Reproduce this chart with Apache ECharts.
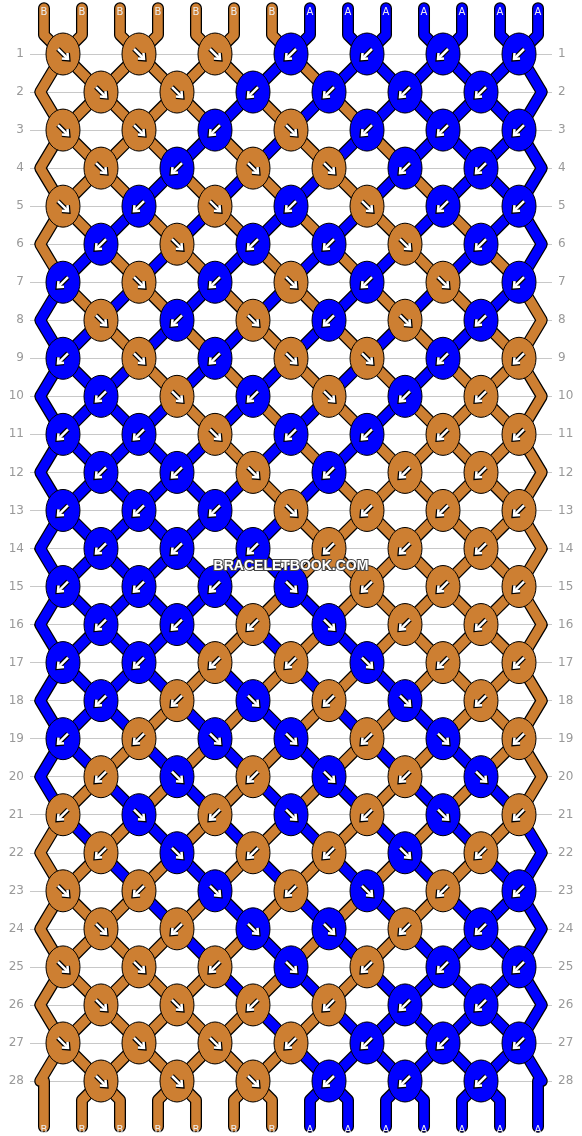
<!DOCTYPE html>
<html>
<head>
<meta charset="UTF-8">
<title>Bracelet pattern</title>
<script src="https://cdn.jsdelivr.net/npm/echarts@6/dist/echarts.min.js"></script>
<style>html,body{margin:0;padding:0;background:#fff}</style>
</head>
<body>
<div id="main" style="width:582px;height:1136px"></div>
<script>
// string colours at the top, left to right
var startStrings = ['B','B','B','B','B','B','B','A','A','A','A','A','A','A'];
var colorOf = { B: '#cd7f32', A: '#0000ff' };
// knot colours per row (odd rows 7 knots, even rows 6)
var knotColors = [
  'BBBAAAA','BBAAAA','BBABAAA','BABBAA','BABABAA','ABAABA','ABABABA',
  'BABABA','ABABBAB','ABABAB','AABAABB','AABABB','AAABBBB','AAABBB',
  'AAAABBB','AABABB','AABBABB','ABABAB','ABAABAB','BABABA','BABABAB',
  'BABBAB','BBABABA','BBAABA','BBBABAA','BBBBAA','BBBBAAA','BBBAAA'
];
// knot directions per row: R = ↘, L = ↙
var knotDirs = [
  'RRRLLLL','RRLLLL','RRLRLLL','RLRRLL','RLRLRLL','LRLLRL','LRLRLRL',
  'RLRLRL','LRLRRLL','LRLRLL','LLRLLLL','LLRLLL','LLLRLLL','LLLLLL',
  'LLLRLLL','LLLRLL','LLLLRLL','LLRLRL','LLRRLRL','LRLRLR','LRLRLRL',
  'LRLLRL','RLRLRLL','RLRRLL','RRLRLLL','RRLLLL','RRRLLLL','RRRLLL'
];

// follow each string through the knots (every knot swaps its pair)
var pos = startStrings.map(function (c, i) { return i; });   // pos[slot] = string id
var paths = startStrings.map(function (c, i) { return [[i, -0.2], [i, 0.5]]; });
var knots = [];
knotDirs.forEach(function (dirs, ri) {
  var row = ri + 1, odd = row % 2 === 1, first = odd ? 0 : 1;
  if (!odd) {
    paths[pos[0]].push([-0.1, row]);
    paths[pos[13]].push([13.1, row]);
  }
  for (var k = 0; k < dirs.length; k++) {
    var a = first + 2 * k, b = a + 1, col = a + 0.5;
    paths[pos[a]].push([col, row]);
    paths[pos[b]].push([col, row]);
    knots.push([col, row, colorOf[knotColors[ri][k]], dirs[k]]);
    var t = pos[a]; pos[a] = pos[b]; pos[b] = t;
  }
});
for (var s = 0; s < 14; s++) {
  var p = paths[pos[s]];
  if (s === 0 || s === 13) p.push([s, 28]); else p.push([s, 28.5]);
  p.push([s, 29.2]);
}
var stringData = paths.map(function (p, i) { return { value: [i, 0], path: p, color: colorOf[startStrings[i]] }; });
var endData = [];
for (var s2 = 0; s2 < 14; s2++) endData.push([s2, 29.2, startStrings[pos[s2]]]);
var topData = startStrings.map(function (c, i) { return [i, -0.2, c]; });
var labelData = topData.concat(endData);

function stringSeries(width, outline) {
  return {
    type: 'custom', clip: false, z: outline ? 1 : 2,
    data: stringData,
    renderItem: function (params, api) {
      var d = stringData[params.dataIndex];
      var pts = d.path.map(function (q) { return api.coord(q); });
      return { type: 'polyline', shape: { points: pts },
        style: { stroke: outline ? '#000' : d.color, lineWidth: width, fill: null, lineJoin: 'round', lineCap: 'round' } };
    }
  };
}

var option = {
  animation: false,
  grid: { left: 30, right: 30, top: 54, bottom: 55 },
  xAxis: { type: 'value', min: -0.368, max: 13.368, show: false },
  yAxis: [
    { type: 'value', min: 1, max: 28, interval: 1, inverse: true, position: 'left',
      axisLine: { show: false }, axisTick: { show: false },
      axisLabel: { color: '#999', fontSize: 12, margin: 6, fontFamily: 'DejaVu Sans' },
      splitLine: { lineStyle: { color: '#c8c8c8' } } },
    { type: 'value', min: 1, max: 28, interval: 1, inverse: true, position: 'right',
      axisLine: { show: false }, axisTick: { show: false },
      axisLabel: { color: '#999', fontSize: 12, margin: 6, fontFamily: 'DejaVu Sans' },
      splitLine: { show: false } }
  ],
  series: [
    stringSeries(12, true),
    stringSeries(9.5, false),
    {
      type: 'custom', clip: false, z: 3,
      data: knots,
      renderItem: function (params, api) {
        var c = api.coord([api.value(0), api.value(1)]);
        var k = knots[params.dataIndex];
        var sx = k[3] === 'R' ? 1 : -1;
        var line = [[-5 * sx, -5], [5 * sx, 5]];
        var head = [[4.5 * sx, -1], [5 * sx, 5], [-1 * sx, 4.5]];
        return { type: 'group', x: c[0], y: c[1], children: [
          { type: 'ellipse', shape: { cx: 0, cy: 0, rx: 17, ry: 21 }, style: { fill: k[2], stroke: '#000', lineWidth: 1 } },
          { type: 'polyline', shape: { points: line }, style: { stroke: '#000', lineWidth: 5, fill: null } },
          { type: 'polyline', shape: { points: head }, style: { stroke: '#000', lineWidth: 5, fill: null } },
          { type: 'polyline', shape: { points: line }, style: { stroke: '#fff', lineWidth: 2.5, fill: null } },
          { type: 'polyline', shape: { points: head }, style: { stroke: '#fff', lineWidth: 2.5, fill: null } }
        ] };
      }
    },
    {
      type: 'custom', clip: false, z: 4,
      data: labelData,
      renderItem: function (params, api) {
        var c = api.coord([api.value(0), api.value(1)]);
        return { type: 'text', x: c[0], y: c[1] + 4,
          style: { text: labelData[params.dataIndex][2], fill: '#eee', fontSize: 10, fontFamily: 'DejaVu Sans', align: 'center', verticalAlign: 'middle' } };
      }
    }
  ],
  graphic: [{
    type: 'text', left: 'center', top: 558, z: 10,
    style: { text: 'BRACELETBOOK.COM', fill: '#fff', stroke: '#444', lineWidth: 2,
      fontSize: 14, fontWeight: 'bold', fontFamily: 'Liberation Sans' }
  }]
};
var myChart = echarts.init(document.getElementById('main'));
myChart.setOption(option);
</script>
</body>
</html>
